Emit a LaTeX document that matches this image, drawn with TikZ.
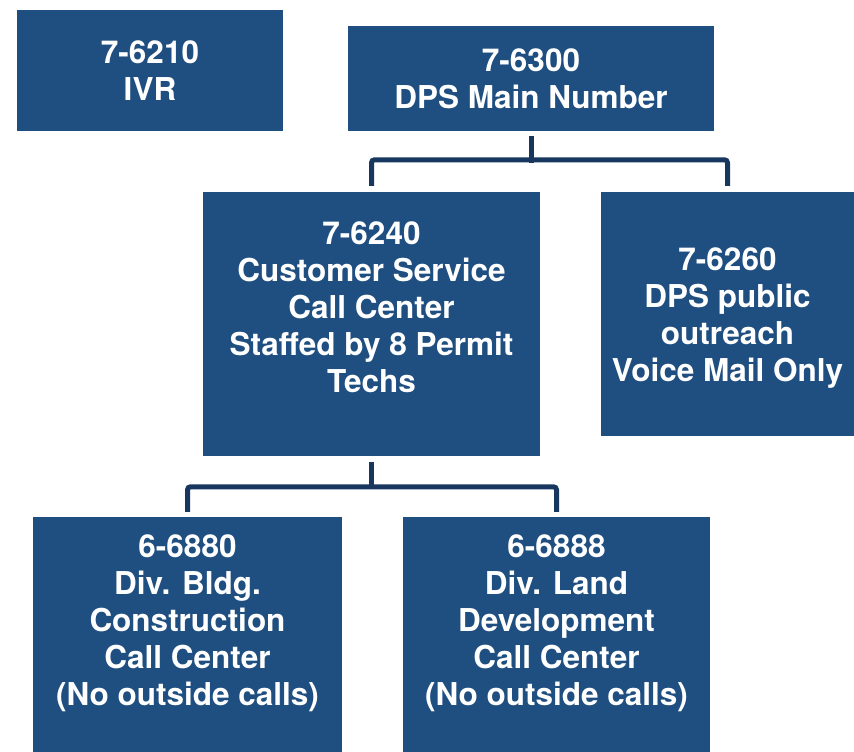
\documentclass[tikz,border=0pt]{standalone}
\usepackage{fontspec}
\setmainfont{TeX Gyre Heros}
\definecolor{boxblue}{RGB}{31,78,128}
\definecolor{linkblue}{RGB}{23,55,94}
\newcommand{\lift}[1]{\rule[-#1pt]{0pt}{0pt}}
\newcommand{\sink}[1]{\rule{0pt}{#1pt}}
\begin{document}
\begin{tikzpicture}[x=1pt, y=1pt,
    box/.style={fill=boxblue, text=white, font=\fontsize{31.5}{37}\selectfont\bfseries,
      align=center, inner sep=0pt},
    link/.style={draw=linkblue, line width=5pt, rounded corners=3pt}]
  \useasboundingbox (0, 0) rectangle (854, 752);
  \node[box, minimum width=266, minimum height=121] (ivr) at (150, 681.5) {7-6210\\IVR};
  \node[box, minimum width=366, minimum height=105] (main) at (531, 673.5) {7-6300\\DPS Main Number};
  \node[box, minimum width=337, minimum height=264] (csc) at (371.5, 428)
    {7-6240\\Customer Service\\Call Center\\Staffed by 8 Permit\\Techs\lift{34}};
  \node[box, minimum width=253, minimum height=244] (outreach) at (727.5, 438)
    {\sink{31}7-6260\\DPS public\\outreach\\Voice Mail Only};
  \node[box, minimum width=309, minimum height=235] (bldg) at (187.5, 117.5)
    {6-6880\\Div. Bldg.\\Construction\\Call Center\\(No outside calls)\lift{28}};
  \node[box, minimum width=307, minimum height=235] (land) at (556.5, 117.5)
    {6-6888\\Div. Land\\Development\\Call Center\\(No outside calls)\lift{28}};
  % main number to call center and outreach
  \draw[link] ([yshift=-5]main.south) -- ++(0, -27);
  \draw[link] ([yshift=6]csc.north) -- ++(0, 26) -| ([yshift=6]outreach.north);
  % call center to division call centers
  \draw[link] ([yshift=-6]csc.south) -- ++(0, -25);
  \draw[link] ([yshift=5]bldg.north) -- ++(0, 25) -| ([yshift=5]land.north);
\end{tikzpicture}
\end{document}
